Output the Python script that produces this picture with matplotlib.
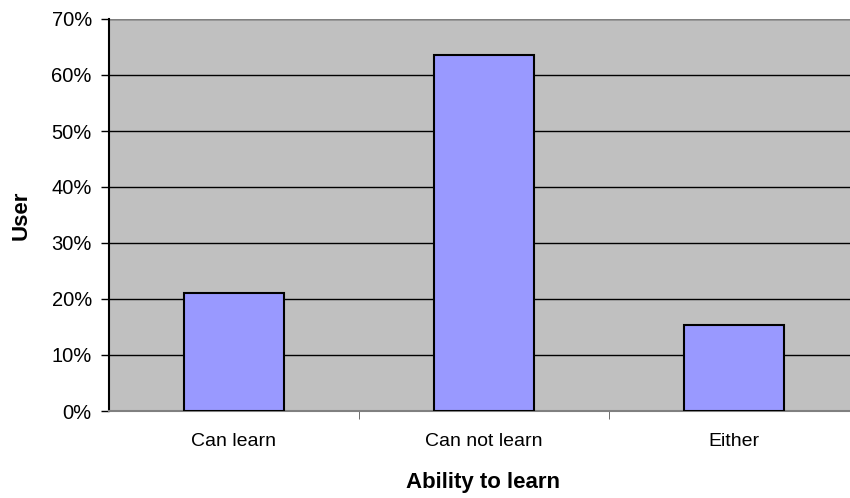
import matplotlib
matplotlib.use("Agg")
import matplotlib.pyplot as plt
from matplotlib.ticker import FuncFormatter, FixedLocator

plt.rcParams['font.family'] = ['Liberation Sans', 'DejaVu Sans']

categories = ['Can learn', 'Can not learn', 'Either']
share = [21.0, 63.6, 15.35]  # percent of users

fig = plt.figure(figsize=(8.5, 4.98), dpi=100)
ax = fig.add_axes([108.5 / 850, 87 / 498, 750 / 850, 392 / 498])
ax.set_facecolor('#C0C0C0')

x = range(len(categories))
ax.bar(x, share, width=0.4, color='#9999FF', edgecolor='black', linewidth=1.5, zorder=3)

ax.set_xlim(-0.5, len(categories) - 0.5)
ax.set_ylim(0, 70)
ax.set_yticks(range(0, 71, 10))
ax.yaxis.set_major_formatter(FuncFormatter(lambda v, p: f'{v:.0f}%'))
ax.grid(axis='y', color='black', linewidth=1, zorder=1)

# category labels centred, tick marks on boundaries
ax.set_xticks(list(x))
ax.set_xticklabels(categories, fontsize=14)
ax.tick_params(axis='x', length=0, pad=16)
ax.xaxis.set_minor_locator(FixedLocator([0.5, 1.5]))
ax.tick_params(axis='x', which='minor', length=6, color='#555555')
ax.tick_params(axis='y', labelsize=14.5, length=6, width=1, pad=6)

for side in ['top', 'right']:
    ax.spines[side].set_visible(False)
ax.spines['left'].set_color('black')
ax.spines['left'].set_linewidth(1.5)
ax.spines['bottom'].set_color('#808080')
ax.spines['bottom'].set_linewidth(1.5)
ax.axhline(70, color='#808080', linewidth=1.5, zorder=2)

ax.set_ylabel('User', fontsize=16, fontweight='bold', labelpad=14)
ax.set_xlabel('Ability to learn', fontsize=16, fontweight='bold', labelpad=16)

fig.savefig('out.png', dpi=100)
